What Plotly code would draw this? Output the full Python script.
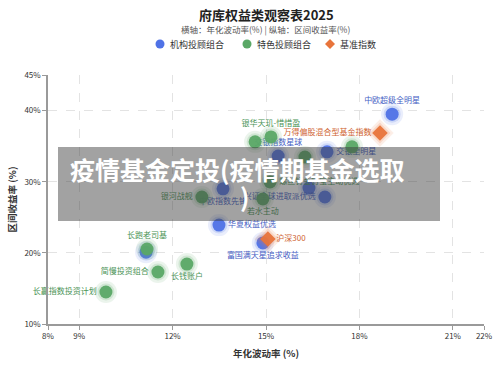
import plotly.graph_objects as go

# ---------------- data ----------------
inst_names = ["中欧超级全明星", "交银全明星", "中欧指数先锋", "", "兴证全球进取派优选",
              "华夏权益优选", "富国满天星追求收益", "交银指数星球", ""]
inst_vol = [19.05, 16.96, 13.62, 16.38, 16.89, 13.49, 14.90, 15.39, 11.15]
inst_ret = [39.5, 34.2, 29.0, 29.1, 27.85, 23.9, 21.4, 33.6, 20.1]
inst_pos = ["top center", "middle right", "bottom center", "middle right", "middle left",
            "middle right", "bottom center", "top center", "middle right"]

feat_names = ["银华天玑-惜惜盈", "", "", "螺丝钉金钉宝主动优选", "银河战舰", "若水主动",
              "长跑老司基", "简慢投资组合", "长钱账户", "长赢指数投资计划", ""]
feat_vol = [15.16, 14.65, 17.76, 15.13, 12.94, 14.90, 11.18, 11.53, 12.46, 9.86, 16.25]
feat_ret = [36.3, 35.6, 34.9, 29.96, 27.85, 27.57, 20.54, 17.31, 18.43, 14.5, 33.47]
feat_pos = ["top center", "middle right", "middle right", "middle right", "middle left",
            "bottom center", "top center", "middle left", "bottom center", "middle left",
            "middle right"]

bench_names = ["万得偏股混合型基金指数", "沪深300"]
bench_vol = [18.66, 15.06]
bench_ret = [36.85, 21.95]
bench_pos = ["middle left", "middle right"]

legend_names = ["机构投顾组合", "特色投顾组合", "基准指数"]

x_ticks = [8, 9, 12, 15, 18, 21, 22]
y_ticks = [10, 20, 30, 40, 45]

BLUE, GREEN, ORANGE = "#4f72e6", "#5aa866", "#e8743b"
BLUE_T, GREEN_T, ORANGE_T = "#4660c4", "#4a9356", "#cf6330"
FONT = "Noto Sans CJK SC, Noto Sans, sans-serif"

W, H = 500, 369
L, R, T, B = 48, 16, 75, 45
PW, PH = W - L - R, H - T - B


def pxx(x):  # page pixel -> paper x
    return (x - L) / PW


def pxy(y):  # page pixel -> paper y
    return (H - B - y) / PH


fig = go.Figure()


def add_group(name, xs, ys, texts, pos, color, tcolor, symbol, size):
    fig.add_trace(go.Scatter(x=xs, y=ys, mode="markers", showlegend=False, hoverinfo="skip",
                             marker=dict(size=size + 9, color=color, opacity=0.12, symbol=symbol,
                                         line=dict(width=0))))
    fig.add_trace(go.Scatter(x=xs, y=ys, mode="markers", showlegend=False, hoverinfo="skip",
                             marker=dict(size=size + 4, color=color, opacity=0.18, symbol=symbol,
                                         line=dict(width=0))))
    fig.add_trace(go.Scatter(x=xs, y=ys, mode="markers+text", name=name, text=texts,
                             textposition=pos, showlegend=False, cliponaxis=False,
                             textfont=dict(size=8, color=tcolor, family=FONT),
                             marker=dict(size=size, color=color, opacity=0.95, symbol=symbol,
                                         line=dict(width=0))))


add_group(legend_names[0], inst_vol, inst_ret, inst_names, inst_pos, BLUE, BLUE_T, "circle", 13)
add_group(legend_names[1], feat_vol, feat_ret, feat_names, feat_pos, GREEN, GREEN_T, "circle", 13)
add_group(legend_names[2], bench_vol, bench_ret, bench_names, bench_pos, ORANGE, ORANGE_T, "diamond", 12)

axis_common = dict(showgrid=True, gridcolor="#e3e3e3", griddash="dash", gridwidth=1,
                   showline=True, linecolor="#9a9a9a", linewidth=1.5, ticks="outside",
                   ticklen=4, tickcolor="#9a9a9a", zeroline=False, automargin=False,
                   tickfont=dict(size=8, color="#333", family=FONT))

fig.update_xaxes(range=[8, 22], tickvals=x_ticks, ticktext=[f"{v}%" for v in x_ticks],
                 title=dict(text="<b>年化波动率 (%)</b>", font=dict(size=9.5, color="#333", family=FONT),
                            standoff=10),
                 **axis_common)
fig.update_yaxes(range=[10, 45], tickvals=y_ticks, ticktext=[f"{v}%" for v in y_ticks],
                 title=dict(text="<b>区间收益率 (%)</b>", font=dict(size=9.5, color="#333", family=FONT),
                            standoff=6),
                 **axis_common)

fig.update_layout(
    width=W, height=H,
    margin=dict(l=L, r=R, t=T, b=B),
    plot_bgcolor="white", paper_bgcolor="white",
    font=dict(family=FONT),
    showlegend=False,
)

fig.add_annotation(text="<b>府库权益类观察表2025</b>", xref="paper", yref="paper",
                   x=pxx(266), y=pxy(14), showarrow=False,
                   font=dict(size=13, color="#222", family=FONT), xanchor="center", yanchor="middle")
fig.add_annotation(text="横轴：年化波动率(%) | 纵轴：区间收益率(%)", xref="paper", yref="paper",
                   x=pxx(265), y=pxy(30), showarrow=False,
                   font=dict(size=8.5, color="#555", family=FONT), xanchor="center", yanchor="middle")

# manual legend (symbols + labels)
leg_sym_x = [160, 247, 330]
leg_colors = [BLUE, GREEN, ORANGE]
for i, (sx, c, nm) in enumerate(zip(leg_sym_x, leg_colors, legend_names)):
    if i < 2:
        fig.add_shape(type="circle", xref="paper", yref="paper", xsizemode="pixel", ysizemode="pixel",
                      xanchor=pxx(sx), yanchor=pxy(44), x0=-4.5, x1=4.5, y0=-4.5, y1=4.5,
                      fillcolor=c, line=dict(width=0))
    else:
        fig.add_shape(type="path", xref="paper", yref="paper", xsizemode="pixel", ysizemode="pixel",
                      xanchor=pxx(sx), yanchor=pxy(44), path="M -5 0 L 0 5 L 5 0 L 0 -5 Z",
                      fillcolor=c, line=dict(width=0))
    fig.add_annotation(text=nm, xref="paper", yref="paper", x=pxx(sx + 8), y=pxy(44),
                       showarrow=False, xanchor="left", yanchor="middle",
                       font=dict(size=9, color="#333", family=FONT))

# overlay banner
fig.add_shape(type="rect", xref="paper", yref="paper",
              x0=pxx(58), x1=pxx(440), y0=pxy(221), y1=pxy(147),
              fillcolor="rgba(60,60,60,0.48)", line=dict(width=0), layer="above")
fig.add_annotation(text="<b>疫情基金定投(疫情期基金选取</b>", xref="paper", yref="paper",
                   x=pxx(237), y=pxy(169), showarrow=False,
                   font=dict(size=25, color="white", family=FONT), xanchor="center", yanchor="middle")
fig.add_annotation(text="<b>)</b>", xref="paper", yref="paper",
                   x=pxx(244), y=pxy(196), showarrow=False,
                   font=dict(size=25, color="white", family=FONT), xanchor="center", yanchor="middle")

fig.write_html("out.html", config={"displayModeBar": False},
               post_script="document.body.style.margin='0';")
